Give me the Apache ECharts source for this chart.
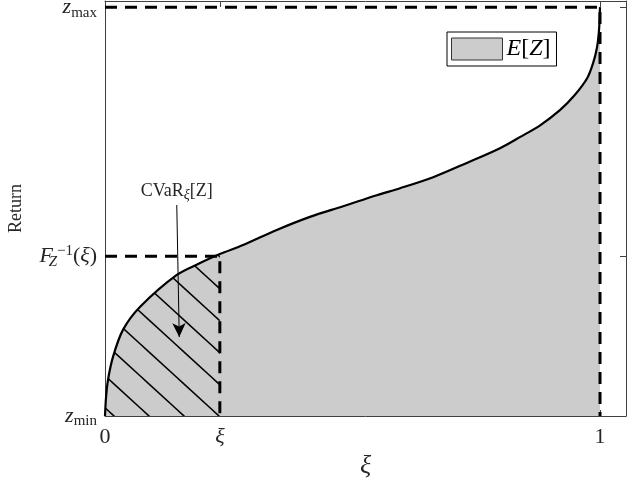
<!DOCTYPE html>
<html>
<head>
<meta charset="utf-8">
<script src="https://cdn.jsdelivr.net/npm/echarts@6.0.0/dist/echarts.min.js"></script>
<style>
  html, body { margin: 0; padding: 0; background: #fff; }
  #chart { width: 628px; height: 482px; }
</style>
</head>
<body>
<div id="chart"></div>
<script>
// quantile curve: xi on x, return scaled so zmin = 0, zmax = 1
const curveX = [0, 0.002, 0.006, 0.016, 0.036, 0.071, 0.145, 0.192, 0.232, 0.279, 0.347, 0.414,
  0.481, 0.549, 0.596, 0.663, 0.731, 0.798, 0.838, 0.879, 0.919, 0.949, 0.974, 0.986, 0.994,
  0.998, 0.9995, 1.0]
const curveY = [0, 0.044, 0.088, 0.144, 0.210, 0.267, 0.345, 0.374, 0.396, 0.418, 0.455, 0.487,
  0.513, 0.540, 0.557, 0.584, 0.619, 0.655, 0.682, 0.711, 0.748, 0.785, 0.826, 0.863, 0.902,
  0.944, 0.985, 1.0]

const xi = 0.232
const qXi = 0.391
const zMin = 0
const zMax = 1

const xTicks = [0, xi, 1]
const xTickLabels = ['{n|0}', '{it|ξ}', '{n|1}']
const yTicks = [zMin, qXi, zMax]
const yTickLabels = [
  '{it|z}{sub|min}',
  '{it|F}{subz|Z}{sup|−1}{n|(}{it|ξ}{n|)}',
  '{it|z}{sub|max}'
]

// arrow pointing into the hatched region (from label down to area)
const arrowFrom = [0.145, 0.516]
const arrowTo = [0.150, 0.193]

const FONT = 'Liberation Serif'
const AX = '#404040'
const TXT = '#262626'

const pick = (ticks, labels) => (v) => {
  let best = 0
  ticks.forEach((t, i) => { if (Math.abs(t - v) < Math.abs(ticks[best] - v)) best = i })
  return labels[best]
}

const hatchPattern = () => {
  const w = 35, h = 32, c = 9
  const cv = document.createElement('canvas')
  cv.width = w
  cv.height = h
  const ctx = cv.getContext('2d')
  ctx.strokeStyle = '#000'
  ctx.lineWidth = 1.6
  for (let k = -1; k <= 1; k++) {
    const x0 = c + k * w
    ctx.beginPath()
    ctx.moveTo(x0 - w * 0.2, -h * 0.2)
    ctx.lineTo(x0 + w * 1.2, h * 1.2)
    ctx.stroke()
  }
  return cv
}

const curve = curveX.map((x, i) => [x, curveY[i]])
const tail = curve.filter(p => p[0] <= xi)

const labelRich = {
  n: { fontFamily: FONT, fontSize: 22, color: TXT, lineHeight: 26, verticalAlign: 'middle' },
  it: { fontFamily: FONT, fontStyle: 'italic', fontSize: 22, color: TXT, lineHeight: 26, verticalAlign: 'middle' },
  sub: { fontFamily: FONT, fontSize: 15, color: TXT, lineHeight: 14, verticalAlign: 'bottom' },
  // zero-width subscript so the superscript stacks over it
  subz: { fontFamily: FONT, fontStyle: 'italic', fontSize: 15, color: TXT, lineHeight: 14, verticalAlign: 'bottom',
    align: 'left', width: 0.1, padding: [0, 0, 0, 0] },
  sup: { fontFamily: FONT, fontSize: 15, color: TXT, lineHeight: 14, verticalAlign: 'top', padding: [0, 0, 0, 4] }
}

const chart = echarts.init(document.getElementById('chart'))

chart.setOption({
  animation: false,
  backgroundColor: '#fff',
  grid: { left: 105, right: 2, top: 1, bottom: 66, containLabel: false, outerBoundsMode: 'none' },
  legend: {
    data: ['E[Z]'],
    left: 447,
    top: 32,
    orient: 'vertical',
    selectedMode: false,
    icon: 'rect',
    itemWidth: 51,
    itemHeight: 22,
    itemGap: 0,
    padding: [5, 6, 5, 4],
    borderColor: '#000',
    borderWidth: 1,
    backgroundColor: '#fff',
    itemStyle: { color: '#cccccc', borderColor: '#333', borderWidth: 1 },
    formatter: () => '{it|E}{n|[}{it|Z}{n|]}',
    textStyle: {
      padding: [0, 0, 0, -1],
      rich: {
        n: { fontFamily: FONT, fontSize: 24, color: '#000' },
        it: { fontFamily: FONT, fontStyle: 'italic', fontSize: 24, color: '#000' }
      }
    }
  },
  xAxis: [{
    type: 'value',
    min: 0,
    max: 1.0525,
    name: 'ξ',
    nameLocation: 'middle',
    nameGap: 36,
    nameTextStyle: { fontFamily: FONT, fontStyle: 'italic', fontSize: 26, color: TXT },
    axisLine: { show: true, lineStyle: { color: AX, width: 1 } },
    axisTick: { show: true, inside: true, length: 6, customValues: xTicks, lineStyle: { color: AX } },
    axisLabel: { customValues: xTicks, margin: 8, formatter: pick(xTicks, xTickLabels), rich: labelRich },
    splitLine: { show: false }
  }, {
    type: 'value',
    position: 'top',
    min: 0,
    max: 1.0525,
    axisLine: { show: true, onZero: false, lineStyle: { color: AX, width: 1 } },
    axisTick: { show: true, inside: true, length: 6, customValues: xTicks, lineStyle: { color: AX } },
    axisLabel: { show: false },
    splitLine: { show: false }
  }],
  yAxis: [{
    type: 'value',
    min: 0,
    max: 1.015,
    name: 'Return',
    nameLocation: 'middle',
    nameGap: 80,
    nameTextStyle: { fontFamily: FONT, fontSize: 18, color: TXT },
    axisLine: { show: true, lineStyle: { color: AX, width: 1 } },
    axisTick: { show: true, inside: true, length: 6, customValues: yTicks, lineStyle: { color: AX } },
    axisLabel: { customValues: yTicks, margin: 8, formatter: pick(yTicks, yTickLabels), rich: labelRich },
    splitLine: { show: false }
  }, {
    type: 'value',
    position: 'right',
    min: 0,
    max: 1.015,
    axisLine: { show: true, onZero: false, lineStyle: { color: AX, width: 1 } },
    axisTick: { show: true, inside: true, length: 6, customValues: yTicks, lineStyle: { color: AX } },
    axisLabel: { show: false },
    splitLine: { show: false }
  }],
  series: [
    {
      name: 'E[Z]',
      type: 'line',
      data: curve,
      showSymbol: false,
      symbol: 'none',
      smooth: 0.3,
      lineStyle: { width: 0 },
      itemStyle: { color: '#cccccc' },
      areaStyle: { color: '#cccccc', opacity: 1, origin: 'start' },
      z: 1
    },
    {
      name: 'CVaR',
      type: 'line',
      data: tail,
      showSymbol: false,
      symbol: 'none',
      smooth: 0.3,
      lineStyle: { width: 0 },
      areaStyle: { color: { image: hatchPattern(), repeat: 'repeat' }, opacity: 1, origin: 'start' },
      z: 2,
      markLine: {
        silent: true,
        animation: false,
        symbol: ['none', 'arrow'],
        symbolSize: [10, 14],
        lineStyle: { color: '#000', width: 1, type: 'solid' },
        label: {
          show: true,
          position: 'start',
          distance: 3,
          formatter: '{r|CVaR}{s|ξ}{r|[Z]}',
          rich: {
            r: { fontFamily: FONT, fontSize: 18, color: TXT, lineHeight: 22, verticalAlign: 'middle' },
            s: { fontFamily: FONT, fontStyle: 'italic', fontSize: 14, color: TXT, lineHeight: 13, verticalAlign: 'bottom' }
          }
        },
        data: [[{ coord: arrowFrom }, { coord: arrowTo }]]
      }
    },
    {
      name: 'zmax guide',
      type: 'line',
      data: [[0, zMax], [1, zMax], [1, zMin]],
      showSymbol: false,
      symbol: 'none',
      lineStyle: { color: '#000', width: 3, type: [12, 8] },
      z: 4
    },
    {
      name: 'xi guide',
      type: 'line',
      data: [[0, qXi], [xi, qXi], [xi, zMin]],
      showSymbol: false,
      symbol: 'none',
      lineStyle: { color: '#000', width: 3, type: [12, 8] },
      z: 4
    },
    {
      name: 'curve',
      type: 'line',
      data: curve,
      showSymbol: false,
      symbol: 'none',
      smooth: 0.3,
      lineStyle: { color: '#000', width: 2.2 },
      z: 5
    }
  ]
})
</script>
</body>
</html>
